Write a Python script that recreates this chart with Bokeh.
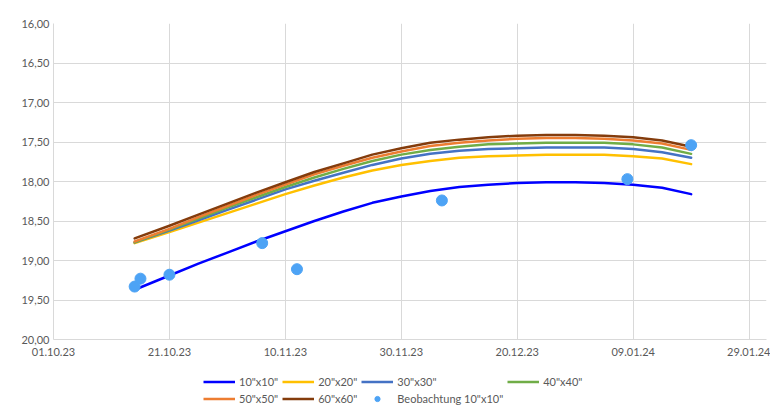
import pandas as pd
from bokeh.plotting import figure
from bokeh.layouts import column
from bokeh.models import (Range1d, FixedTicker, DatetimeTickFormatter,
                          CustomJSTickFormatter, Legend, LegendItem, ColumnDataSource)
from bokeh.embed import file_html
from bokeh.resources import INLINE

# ---- data ----
line_dates = ["2023-10-15", "2023-10-21", "2023-10-26", "2023-10-31", "2023-11-05",
              "2023-11-10", "2023-11-15", "2023-11-20", "2023-11-25", "2023-11-30",
              "2023-12-05", "2023-12-10", "2023-12-15", "2023-12-20", "2023-12-25",
              "2023-12-30", "2024-01-04", "2024-01-09", "2024-01-14", "2024-01-19"]
s10 = [19.37, 19.19, 19.04, 18.90, 18.76, 18.63, 18.50, 18.38, 18.27, 18.19,
       18.12, 18.07, 18.04, 18.02, 18.01, 18.01, 18.02, 18.04, 18.08, 18.16]
s20 = [18.78, 18.64, 18.52, 18.40, 18.28, 18.16, 18.05, 17.95, 17.86, 17.79,
       17.74, 17.70, 17.68, 17.67, 17.66, 17.66, 17.66, 17.68, 17.71, 17.78]
s30 = [18.77, 18.62, 18.49, 18.36, 18.23, 18.10, 17.99, 17.89, 17.79, 17.71,
       17.65, 17.61, 17.59, 17.58, 17.57, 17.57, 17.57, 17.59, 17.63, 17.70]
s40 = [18.77, 18.61, 18.47, 18.33, 18.20, 18.07, 17.95, 17.84, 17.74, 17.66,
       17.60, 17.56, 17.53, 17.52, 17.51, 17.51, 17.51, 17.53, 17.57, 17.65]
s50 = [18.76, 18.60, 18.45, 18.31, 18.17, 18.04, 17.91, 17.80, 17.70, 17.62,
       17.55, 17.51, 17.48, 17.46, 17.45, 17.45, 17.46, 17.48, 17.52, 17.60]
s60 = [18.72, 18.56, 18.42, 18.28, 18.14, 18.01, 17.88, 17.77, 17.66, 17.58,
       17.51, 17.47, 17.44, 17.42, 17.41, 17.41, 17.42, 17.44, 17.48, 17.56]

obs_dates = ["2023-10-15", "2023-10-16", "2023-10-21", "2023-11-06", "2023-11-12",
             "2023-12-07", "2024-01-08", "2024-01-19"]
obs_values = [19.33, 19.23, 19.18, 18.78, 19.11, 18.24, 17.97, 17.54]

series_names = ['10"x10"', '20"x20"', '30"x30"', '40"x40"', '50"x50"', '60"x60"']
obs_name = 'Beobachtung 10"x10"'
x_tick_dates = ["2023-10-01", "2023-10-21", "2023-11-10", "2023-11-30",
                "2023-12-20", "2024-01-09", "2024-01-29"]
y_ticks = [16.0, 16.5, 17.0, 17.5, 18.0, 18.5, 19.0, 19.5, 20.0]

# ---- styling ----
colors = ["#0000FF", "#FFC000", "#4472C4", "#70AD47", "#ED7D31", "#843C0C"]
obs_color = "#4DA3F5"
grid_color = "#D9D9D9"
text_color = "#595959"
FONT = "Lato"
LW = 2.5

x_start = pd.Timestamp("2023-10-01")
x_end = pd.Timestamp("2024-02-01")
xr = Range1d(x_start, x_end)

p = figure(width=770, height=373, x_axis_type="datetime",
           x_range=xr, y_range=Range1d(20, 16),
           output_backend="svg", toolbar_location=None,
           min_border_left=53, min_border_right=4, min_border_top=23,
           min_border_bottom=34)
p.outline_line_color = None
p.background_fill_color = "white"
p.border_fill_color = "white"

ldates = pd.to_datetime(line_dates)
odates = pd.to_datetime(obs_dates)
all_series = [s10, s20, s30, s40, s50, s60]
for vals, col in zip(all_series, colors):
    src = ColumnDataSource(dict(x=ldates, y=vals))
    p.line("x", "y", source=src, line_color=col, line_width=LW,
           line_join="round", line_cap="round")

osrc = ColumnDataSource(dict(x=odates, y=obs_values))
p.scatter("x", "y", source=osrc, size=11, marker="circle",
          fill_color=obs_color, line_color=obs_color)

# axes
xt = [pd.Timestamp(d).value / 1e6 for d in x_tick_dates]
p.xaxis.ticker = FixedTicker(ticks=xt)
fmt = "%d.%m.%y"
p.xaxis.formatter = DatetimeTickFormatter(
    milliseconds=fmt, seconds=fmt, minsec=fmt, minutes=fmt, hourmin=fmt,
    hours=fmt, days=fmt, months=fmt, years=fmt, strip_leading_zeros=False)
p.yaxis.ticker = FixedTicker(ticks=y_ticks)
p.yaxis.formatter = CustomJSTickFormatter(code="return tick.toFixed(2).replace('.', ',');")

for ax in (p.xaxis, p.yaxis):
    ax.axis_line_color = grid_color
    ax.major_tick_out = 0
    ax.major_tick_in = 0
    ax.minor_tick_out = 0
    ax.minor_tick_in = 0
    ax.major_label_text_font = FONT
    ax.major_label_text_font_size = "11px"
    ax.major_label_text_color = text_color
p.xaxis.major_label_standoff = 8
p.yaxis.major_label_standoff = 4

p.xgrid.grid_line_color = grid_color
p.ygrid.grid_line_color = grid_color
p.xgrid.ticker = p.xaxis.ticker
p.ygrid.ticker = p.yaxis.ticker

# ---- legend strip (small figure below the chart; its glyphs fall outside its view) ----
lg = figure(width=770, height=32, output_backend="svg", toolbar_location=None,
            x_axis_type="datetime", x_range=xr, y_range=Range1d(0, 1),
            x_axis_location=None, y_axis_location=None,
            min_border_left=53, min_border_right=4, min_border_top=0,
            min_border_bottom=0)
lg.outline_line_color = None
lg.grid.visible = False
items = []
for name, vals, col in zip(series_names, all_series, colors):
    r = lg.line(x=ldates, y=vals, line_color=col, line_width=LW)
    items.append(LegendItem(label=name, renderers=[r]))
ro = lg.scatter(x=odates, y=obs_values, size=8, marker="circle",
                fill_color=obs_color, line_color=obs_color)
items.append(LegendItem(label=obs_name, renderers=[ro]))

legend = Legend(items=items, location=(150, 0), orientation="horizontal", ncols=4,
                glyph_width=32, glyph_height=13, label_height=13,
                label_standoff=4, spacing=4, padding=0, margin=0,
                border_line_alpha=0, background_fill_alpha=0,
                label_text_font=FONT, label_text_font_size="11px",
                label_text_color=text_color)
lg.add_layout(legend, "center")

layout = column(p, lg, spacing=0)
open("out.html", "w").write(file_html(layout, INLINE))
